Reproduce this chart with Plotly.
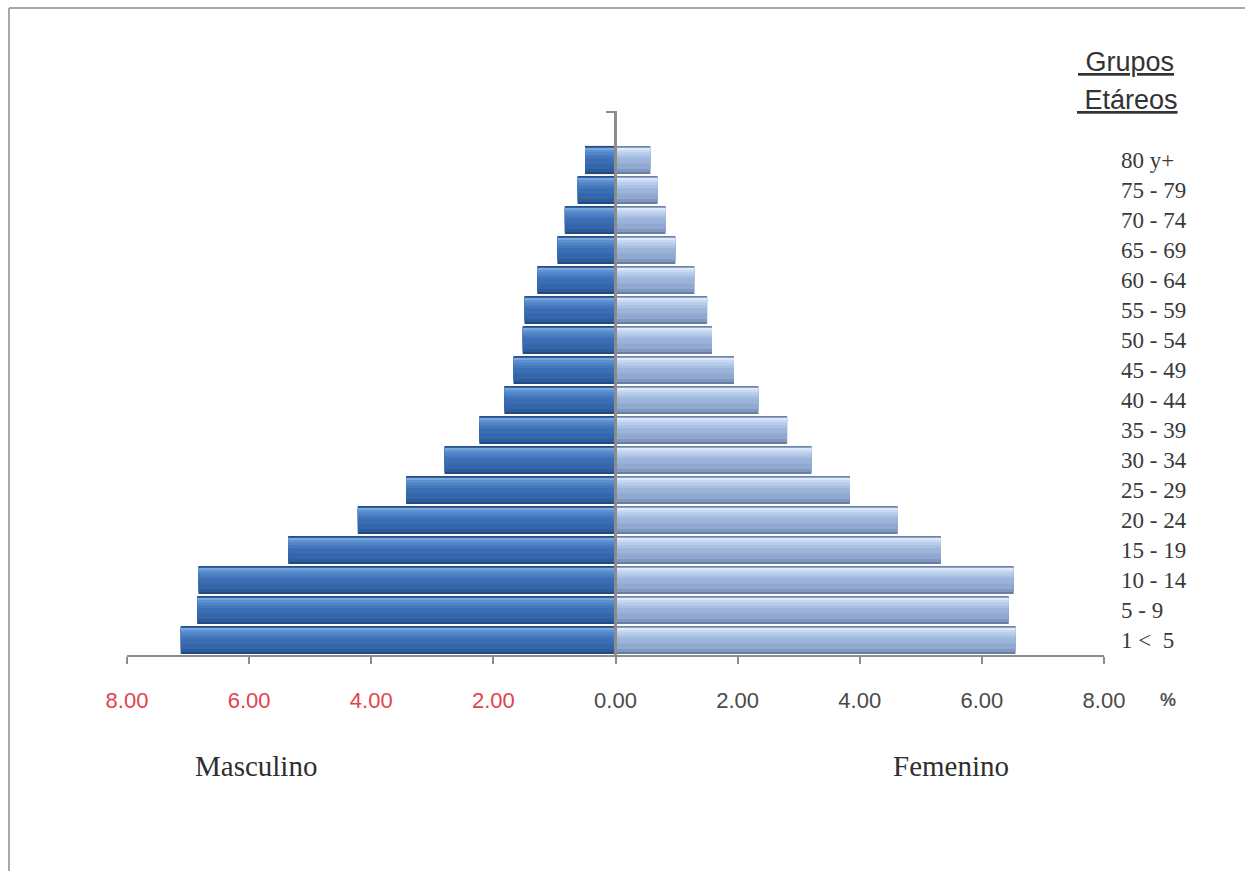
import plotly.graph_objects as go

# Age groups, bottom to top
age_groups = ["1 <  5", "5 - 9", "10 - 14", "15 - 19", "20 - 24", "25 - 29",
              "30 - 34", "35 - 39", "40 - 44", "45 - 49", "50 - 54", "55 - 59",
              "60 - 64", "65 - 69", "70 - 74", "75 - 79", "80 y+"]

# Percentage of population by sex
masculino = [7.12, 6.85, 6.83, 5.36, 4.22, 3.43, 2.80, 2.23, 1.82, 1.67,
             1.52, 1.49, 1.28, 0.95, 0.83, 0.62, 0.50]
femenino = [6.55, 6.44, 6.52, 5.33, 4.62, 3.84, 3.21, 2.81, 2.34, 1.94,
            1.58, 1.50, 1.29, 0.98, 0.82, 0.69, 0.57]

tick_vals = [-8, -6, -4, -2, 0, 2, 4, 6, 8]
tick_text = ["8.00", "6.00", "4.00", "2.00", "0.00", "2.00", "4.00", "6.00", "8.00"]

# Plot-area geometry in page pixels
W, H = 1245, 871
L, R, T, B = 127, 1104, 112, 655


def px(x):
    return (x - L) / (R - L)


def py(y):
    return (B - y) / (B - T)


fig = go.Figure()

# Stacked thin strips (bottom edge to top edge) shade each bar like a lit bevel
male_layers = [  # (offset, width, colour)
    (-0.47, 0.94, "#234a80"),
    (-0.40, 0.84, "#2d5c9c"),
    (-0.30, 0.72, "#3566ab"),
    (-0.12, 0.52, "#3b6eb5"),
    (0.06, 0.32, "#4479bf"),
    (0.16, 0.20, "#5086c8"),
    (0.26, 0.10, "#5f93d0"),
    (0.34, 0.06, "#7aa6dc"),
]
female_layers = [
    (-0.47, 0.94, "#687da2"),
    (-0.40, 0.84, "#8198c0"),
    (-0.30, 0.72, "#91a9d1"),
    (-0.12, 0.52, "#9cb3da"),
    (0.06, 0.32, "#a9c0e3"),
    (0.16, 0.20, "#b8cdea"),
    (0.26, 0.10, "#c8daf2"),
    (0.34, 0.06, "#dde8f8"),
]

for off, wd, col in male_layers:
    fig.add_trace(go.Bar(
        y=age_groups, x=[-v for v in masculino], orientation="h",
        offset=off, width=wd, marker=dict(color=col, line=dict(width=0)),
        showlegend=False, hoverinfo="skip"))

for off, wd, col in female_layers:
    fig.add_trace(go.Bar(
        y=age_groups, x=femenino, orientation="h",
        offset=off, width=wd, marker=dict(color=col, line=dict(width=0)),
        showlegend=False, hoverinfo="skip"))

red = "#e2434b"
grey = "#4a4a4a"
colored_ticks = [
    f"<span style='color:{red}'>{t}</span>" if v < 0 else t
    for v, t in zip(tick_vals, tick_text)
]

fig.update_layout(
    width=W, height=H,
    margin=dict(l=L, r=W - R, t=T, b=H - B, pad=0),
    paper_bgcolor="white", plot_bgcolor="white",
    barmode="overlay", bargap=0.06,
    xaxis=dict(
        range=[-8, 8], tickvals=tick_vals, ticktext=colored_ticks,
        showgrid=False, zeroline=False,
        showline=True, linecolor="#8c8c8c", linewidth=2,
        ticks="outside", ticklen=7, tickwidth=2, tickcolor="#8c8c8c",
        ticklabelstandoff=18,
        tickfont=dict(family="Liberation Sans", size=22, color=grey),
        fixedrange=True,
    ),
    yaxis=dict(
        side="right", range=[-0.5, 17.6],
        showgrid=False, zeroline=False, showline=False, ticks="",
        ticklabelstandoff=16,
        tickfont=dict(family="Liberation Serif", size=23, color="#3a3a3a"),
        fixedrange=True,
    ),
    font=dict(family="Liberation Sans", color=grey),
)

# Central vertical axis with a small cap tick at its top
fig.add_shape(type="line", xref="x", yref="paper", x0=0, x1=0, y0=0, y1=1,
              line=dict(color="#8c8c8c", width=3), layer="above")
fig.add_shape(type="line", xref="paper", yref="paper",
              x0=px(606), x1=px(617), y0=1, y1=1,
              line=dict(color="#8c8c8c", width=2), layer="above")

# Frame lines along the top and left of the page
fig.add_shape(type="line", xref="paper", yref="paper",
              x0=px(9), x1=px(W + 5), y0=py(8), y1=py(8),
              line=dict(color="#a8a8a8", width=2))
fig.add_shape(type="line", xref="paper", yref="paper",
              x0=px(9), x1=px(9), y0=py(8), y1=py(H + 5),
              line=dict(color="#a8a8a8", width=2))


def label(x, y, text, size, family, color, xanchor="center"):
    fig.add_annotation(xref="paper", yref="paper", x=px(x), y=py(y),
                       xanchor=xanchor, yanchor="middle", text=text,
                       showarrow=False,
                       font=dict(family=family, size=size, color=color))


# Percent sign after the axis labels
label(1168, 700, "<b>%</b>", 18, "Liberation Sans", "#555555")

# Sex labels under the axis
label(256, 766, "Masculino", 29, "Liberation Serif", "#2f2f2f")
label(951, 766, "Femenino", 29, "Liberation Serif", "#2f2f2f")

# Header over the age labels
label(1176, 62, "<u>&nbsp;Grupos</u>", 27, "Liberation Sans", "#333333", "right")
label(1180, 100, "<u>&nbsp;Etáreos</u>", 27, "Liberation Sans", "#333333", "right")

fig.write_html("out.html")
